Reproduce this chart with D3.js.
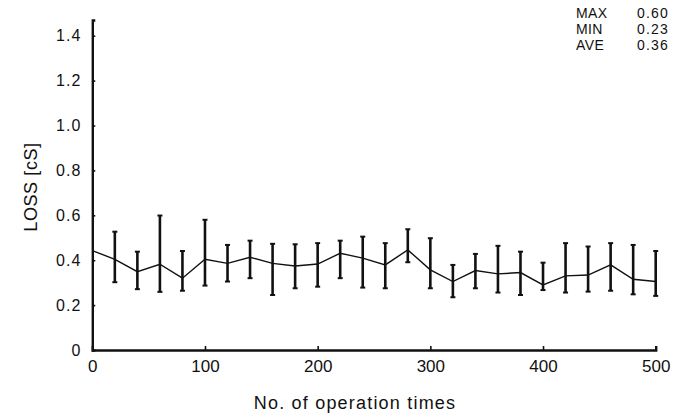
<!DOCTYPE html>
<html>
<head>
<meta charset="utf-8">
<script src="https://cdn.jsdelivr.net/npm/d3@7"></script>
<style>
  html, body { margin: 0; padding: 0; background: #fff; }
  svg { display: block; }
  text { font-family: "Liberation Sans", Arial, sans-serif; fill: #111; }
</style>
</head>
<body>
<svg id="chart" width="690" height="419"></svg>
<script>
// ---- data ----
const startX = 0;
const startMean = 0.443;
const operations = [20,40,60,80,100,120,140,160,180,200,220,240,260,280,300,320,340,360,380,400,420,440,460,480,500];
const meanLoss  = [0.404,0.349,0.382,0.320,0.404,0.386,0.413,0.386,0.374,0.383,0.431,0.409,0.379,0.446,0.357,0.305,0.354,0.339,0.345,0.290,0.330,0.334,0.379,0.315,0.305];
const upperLoss = [0.527,0.438,0.599,0.441,0.580,0.468,0.487,0.473,0.471,0.476,0.487,0.505,0.476,0.538,0.498,0.379,0.428,0.464,0.438,0.389,0.476,0.461,0.476,0.468,0.441];
const lowerLoss = [0.302,0.271,0.259,0.264,0.287,0.305,0.320,0.245,0.275,0.282,0.320,0.278,0.275,0.391,0.275,0.235,0.275,0.256,0.245,0.267,0.256,0.260,0.264,0.248,0.241];
const xTicks = [0,100,200,300,400,500];
const yTicks = [0,0.2,0.4,0.6,0.8,1.0,1.2,1.4];
const statLabels = ["MAX","MIN","AVE"];
const statValues = ["0.60","0.23","0.36"];

// ---- layout ----
const svg = d3.select("#chart");
const x = d3.scaleLinear().domain([0, 500]).range([92.3, 655.7]);
const y = d3.scaleLinear().domain([0, 1.47]).range([350, 20]);

// axes
const xAxis = d3.axisBottom(x).tickValues(xTicks).tickSize(-4).tickPadding(10)
  .tickFormat(d3.format("d"));
const yAxis = d3.axisLeft(y).tickValues(yTicks).tickSize(-3).tickPadding(11)
  .tickFormat(d => d === 0 ? "0" : d3.format(".1f")(d));

const gx = svg.append("g").attr("transform", `translate(0,${y(0)})`).call(xAxis);
const gy = svg.append("g").attr("transform", `translate(${x(0)},0)`).call(yAxis);

[gx, gy].forEach(g => {
  g.select(".domain").attr("stroke", "#111").attr("stroke-width", 2.4);
  g.selectAll(".tick line").attr("stroke", "#111").attr("stroke-width", 1.6);
  g.selectAll(".tick text").attr("fill", "#111")
    .style("font-family", "'Liberation Sans', Arial, sans-serif");
});
gx.selectAll(".tick text").style("font-size", "17px").attr("dy", "0.71em");
gy.selectAll(".tick text").style("font-size", "16px").style("letter-spacing", "1px");
gy.select(".tick:first-of-type line").remove();
gx.select(".tick:first-of-type line").remove();

// axis titles
svg.append("text")
  .attr("x", 355).attr("y", 409)
  .attr("text-anchor", "middle")
  .style("font-size", "18px")
  .style("letter-spacing", "1.2px")
  .text("No. of operation times");

svg.append("text")
  .attr("transform", `translate(37,187) rotate(-90)`)
  .attr("text-anchor", "middle")
  .style("font-size", "18px")
  .style("letter-spacing", "0.6px")
  .text("LOSS [cS]");

// mean line
const linePts = [[startX, startMean]].concat(operations.map((o, i) => [o, meanLoss[i]]));
svg.append("path")
  .datum(linePts)
  .attr("fill", "none")
  .attr("stroke", "#111")
  .attr("stroke-width", 1.4)
  .attr("d", d3.line().x(d => x(d[0])).y(d => y(d[1])));

// error bars
const bars = svg.append("g").selectAll("g").data(operations).join("g");
bars.append("line")
  .attr("x1", d => x(d)).attr("x2", d => x(d))
  .attr("y1", (d, i) => y(upperLoss[i])).attr("y2", (d, i) => y(lowerLoss[i]))
  .attr("stroke", "#111").attr("stroke-width", 2.6);
bars.append("line")
  .attr("x1", d => x(d) - 2.5).attr("x2", d => x(d) + 2.5)
  .attr("y1", (d, i) => y(upperLoss[i])).attr("y2", (d, i) => y(upperLoss[i]))
  .attr("stroke", "#111").attr("stroke-width", 2);
bars.append("line")
  .attr("x1", d => x(d) - 2.5).attr("x2", d => x(d) + 2.5)
  .attr("y1", (d, i) => y(lowerLoss[i])).attr("y2", (d, i) => y(lowerLoss[i]))
  .attr("stroke", "#111").attr("stroke-width", 2);

// stats box
const stats = svg.append("g");
statLabels.forEach((lab, i) => {
  stats.append("text").attr("x", 576).attr("y", 18 + i * 16)
    .style("font-size", "14px").style("letter-spacing", "0.4px").text(lab);
  stats.append("text").attr("x", 637).attr("y", 18 + i * 16)
    .style("font-size", "14px").style("letter-spacing", "1.2px").text(statValues[i]);
});
</script>
</body>
</html>
